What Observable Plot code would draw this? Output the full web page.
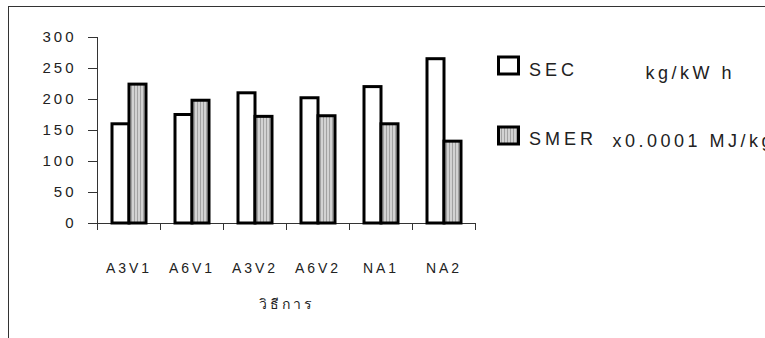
<!DOCTYPE html>
<html>
<head>
<meta charset="utf-8">
<script src="https://cdn.jsdelivr.net/npm/d3@7"></script>
<script src="https://cdn.jsdelivr.net/npm/@observablehq/plot@0.6"></script>
<style>
  body { margin: 0; background: #fff; }
  #chart svg text { letter-spacing: 3px; }
</style>
</head>
<body>
<div id="chart"></div>
<script>
// Methods on the category axis
const categories = ["A3V1", "A6V1", "A3V2", "A6V2", "NA1", "NA2"];
// SEC (kg/kW h) per method
const secValues = [160, 175, 210, 202, 220, 265];
// SMER (x0.0001 MJ/kg) per method
const smerValues = [224, 198, 172, 173, 160, 132];
// Value axis ticks
const yTicks = [0, 50, 100, 150, 200, 250, 300];
// Series names and their units for the legend
const seriesNames = ["SEC", "SMER"];
const seriesUnits = ["kg/kW h", "x0.0001 MJ/kg"];
const axisTitle = "วิธีการ";

const rows = categories.flatMap((method, i) => [
  {method, series: seriesNames[0], value: secValues[i]},
  {method, series: seriesNames[1], value: smerValues[i]}
]);

const W = 765, H = 338;
const font = "'Liberation Sans', Arial, sans-serif";

const plot = Plot.plot({
  width: W,
  height: H,
  marginLeft: 95,
  marginRight: 288,
  marginTop: 37,
  marginBottom: 115,
  style: {fontFamily: font, color: "#222", background: "white", overflow: "visible"},
  fx: {domain: categories, paddingInner: 0, paddingOuter: 0},
  x: {domain: seriesNames, paddingInner: 0, paddingOuter: 0.835, axis: null},
  y: {domain: [0, 300], axis: null},
  marks: [
    Plot.axisY({ticks: yTicks, tickSize: 9, tickPadding: 12, fontSize: 15, label: null, stroke: "#333"}),
    Plot.axisFx({anchor: "bottom", tickSize: 0, tickPadding: 40, fontSize: 14,
                 label: axisTitle, labelAnchor: "center", labelOffset: 85}),
    Plot.ruleY([0], {stroke: "#333"}),
    Plot.barY(rows.filter(d => d.series === seriesNames[0]),
      {fx: "method", x: "series", y: "value", fill: "white", stroke: "black", strokeWidth: 3}),
    Plot.barY(rows.filter(d => d.series === seriesNames[1]),
      {fx: "method", x: "series", y: "value", fill: "url(#smer-stripes)", stroke: "black", strokeWidth: 3})
  ]
});

document.getElementById("chart").appendChild(plot);

const svg = d3.select(plot);

// Vertical-stripe fill used by the SMER bars and its legend swatch
const pattern = svg.insert("defs", ":first-child")
  .append("pattern")
  .attr("id", "smer-stripes")
  .attr("patternUnits", "userSpaceOnUse")
  .attr("width", 3).attr("height", 3);
pattern.append("rect").attr("width", 3).attr("height", 3).attr("fill", "#d2d2d2");
pattern.append("rect").attr("width", 1).attr("height", 3).attr("fill", "#a2a2a2");

// Outer chart border
svg.insert("rect", ":first-child")
  .attr("x", 8.5).attr("y", 6.5)
  .attr("width", W).attr("height", H)
  .attr("fill", "none").attr("stroke", "#333");

// Value axis line and tick marks between method groups, placed with Plot's scales
const fx = plot.scale("fx");
const y = plot.scale("y");
const y0 = y.apply(0), yTop = y.apply(300);
const x0 = fx.apply(categories[0]);
const bounds = categories.map(c => fx.apply(c)).concat([fx.apply(categories[categories.length - 1]) + fx.bandwidth]);
const axes = svg.append("g").attr("stroke", "#333").attr("stroke-width", 1);
axes.append("line")
  .attr("x1", Math.round(x0) + 0.5).attr("x2", Math.round(x0) + 0.5)
  .attr("y1", yTop).attr("y2", y0);
bounds.forEach(b => {
  axes.append("line")
    .attr("x1", Math.round(b) + 0.5).attr("x2", Math.round(b) + 0.5)
    .attr("y1", y0).attr("y2", y0 + 7);
});

// Legend inside the chart area
const legend = svg.append("g")
  .attr("font-family", font).attr("font-size", 18).attr("fill", "#222")
  .attr("text-anchor", "start");
const legendRows = [
  {box: 57, text: 75.5, unitBase: 79, fill: "white"},
  {box: 127, text: 145, unitBase: 147, fill: "url(#smer-stripes)"}
];
seriesNames.forEach((name, i) => {
  const r = legendRows[i];
  legend.append("rect")
    .attr("x", 498.5).attr("y", r.box).attr("width", 20).attr("height", 17)
    .attr("fill", r.fill).attr("stroke", "black").attr("stroke-width", 3);
  legend.append("text").attr("x", 529).attr("y", r.text)
    .style("letter-spacing", "4px").text(name);
  legend.append("text").attr("x", i === 0 ? 645.5 : 612.5).attr("y", r.unitBase)
    .style("letter-spacing", "3.5px").style("white-space", "pre")
    .text(seriesUnits[i]);
});
</script>
</body>
</html>
